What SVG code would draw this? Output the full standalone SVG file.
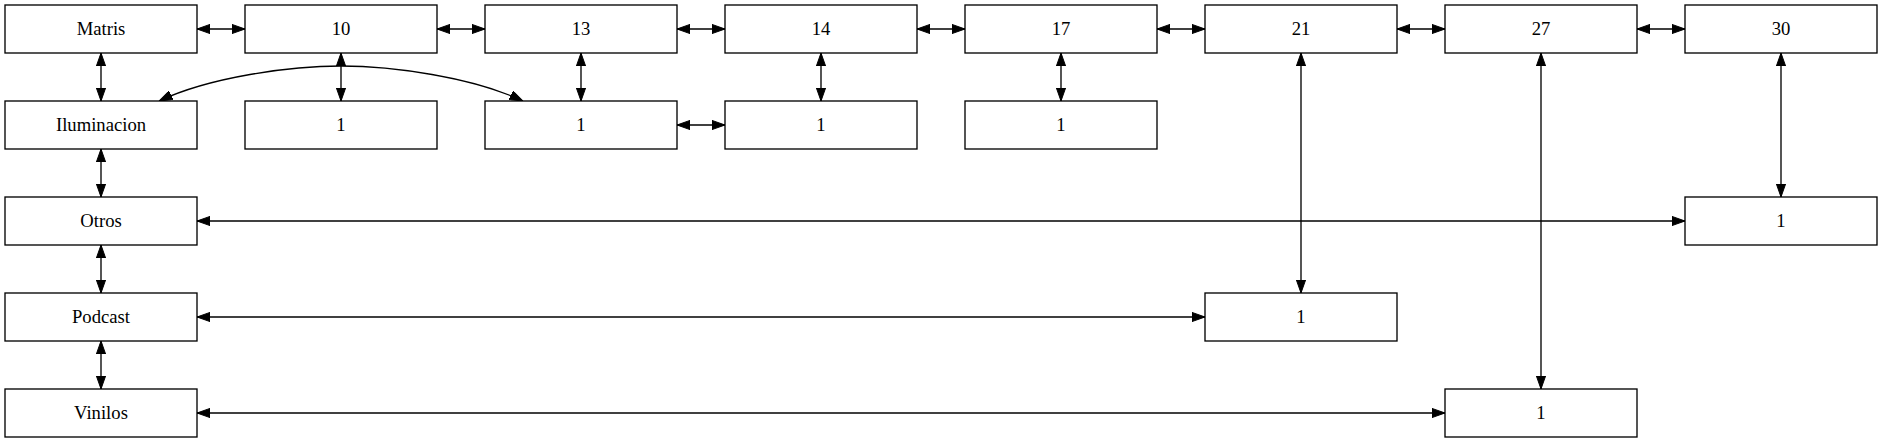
<svg xmlns="http://www.w3.org/2000/svg" width="1883" height="443" viewBox="0 0 1883 443">
<style>
.n rect{fill:#fff;stroke:#000;stroke-width:1.33}
.n text{font-family:"Liberation Serif","Times New Roman",serif;font-size:18.67px;text-anchor:middle;fill:#000}
#edges path{fill:none;stroke:#000;stroke-width:1.33;marker-start:url(#ah);marker-end:url(#ah)}
</style>
<defs>
<marker id="ah" markerUnits="userSpaceOnUse" viewBox="0 0 13.3 9.4" refX="13.3" refY="4.7" markerWidth="13.3" markerHeight="9.4" orient="auto-start-reverse">
<path d="M0,0 L13.3,4.7 L0,9.4 z" fill="#000" stroke="#000" stroke-width="1"/>
</marker>
</defs>
<rect width="1883" height="443" fill="#fff"/>
<g id="edges">
<path d="M197,29 H245"/>
<path d="M437,29 H485"/>
<path d="M677,29 H725"/>
<path d="M917,29 H965"/>
<path d="M1157,29 H1205"/>
<path d="M1397,29 H1445"/>
<path d="M1637,29 H1685"/>
<path d="M101,53 V101"/>
<path d="M341,53 V101"/>
<path d="M581,53 V101"/>
<path d="M821,53 V101"/>
<path d="M1061,53 V101"/>
<path d="M677,125 H725"/>
<path d="M159,101 C210,77 290,66 341,66 C392,66 472,77 523,101"/>
<path d="M101,149 V197"/>
<path d="M101,245 V293"/>
<path d="M101,341 V389"/>
<path d="M197,221 H1685"/>
<path d="M197,317 H1205"/>
<path d="M197,413 H1445"/>
<path d="M1301,53 V293"/>
<path d="M1541,53 V389"/>
<path d="M1781,53 V197"/>
</g>
<g id="matris" class="n"><rect x="5" y="5" width="192" height="48"/><text x="101" y="35">Matris</text></g>
<g id="n10" class="n"><rect x="245" y="5" width="192" height="48"/><text x="341" y="35">10</text></g>
<g id="n13" class="n"><rect x="485" y="5" width="192" height="48"/><text x="581" y="35">13</text></g>
<g id="n14" class="n"><rect x="725" y="5" width="192" height="48"/><text x="821" y="35">14</text></g>
<g id="n17" class="n"><rect x="965" y="5" width="192" height="48"/><text x="1061" y="35">17</text></g>
<g id="n21" class="n"><rect x="1205" y="5" width="192" height="48"/><text x="1301" y="35">21</text></g>
<g id="n27" class="n"><rect x="1445" y="5" width="192" height="48"/><text x="1541" y="35">27</text></g>
<g id="n30" class="n"><rect x="1685" y="5" width="192" height="48"/><text x="1781" y="35">30</text></g>
<g id="iluminacion" class="n"><rect x="5" y="101" width="192" height="48"/><text x="101" y="131">Iluminacion</text></g>
<g id="n10_1" class="n"><rect x="245" y="101" width="192" height="48"/><text x="341" y="131">1</text></g>
<g id="n13_1" class="n"><rect x="485" y="101" width="192" height="48"/><text x="581" y="131">1</text></g>
<g id="n14_1" class="n"><rect x="725" y="101" width="192" height="48"/><text x="821" y="131">1</text></g>
<g id="n17_1" class="n"><rect x="965" y="101" width="192" height="48"/><text x="1061" y="131">1</text></g>
<g id="otros" class="n"><rect x="5" y="197" width="192" height="48"/><text x="101" y="227">Otros</text></g>
<g id="n30_1" class="n"><rect x="1685" y="197" width="192" height="48"/><text x="1781" y="227">1</text></g>
<g id="podcast" class="n"><rect x="5" y="293" width="192" height="48"/><text x="101" y="323">Podcast</text></g>
<g id="n21_1" class="n"><rect x="1205" y="293" width="192" height="48"/><text x="1301" y="323">1</text></g>
<g id="vinilos" class="n"><rect x="5" y="389" width="192" height="48"/><text x="101" y="419">Vinilos</text></g>
<g id="n27_1" class="n"><rect x="1445" y="389" width="192" height="48"/><text x="1541" y="419">1</text></g>
</svg>
